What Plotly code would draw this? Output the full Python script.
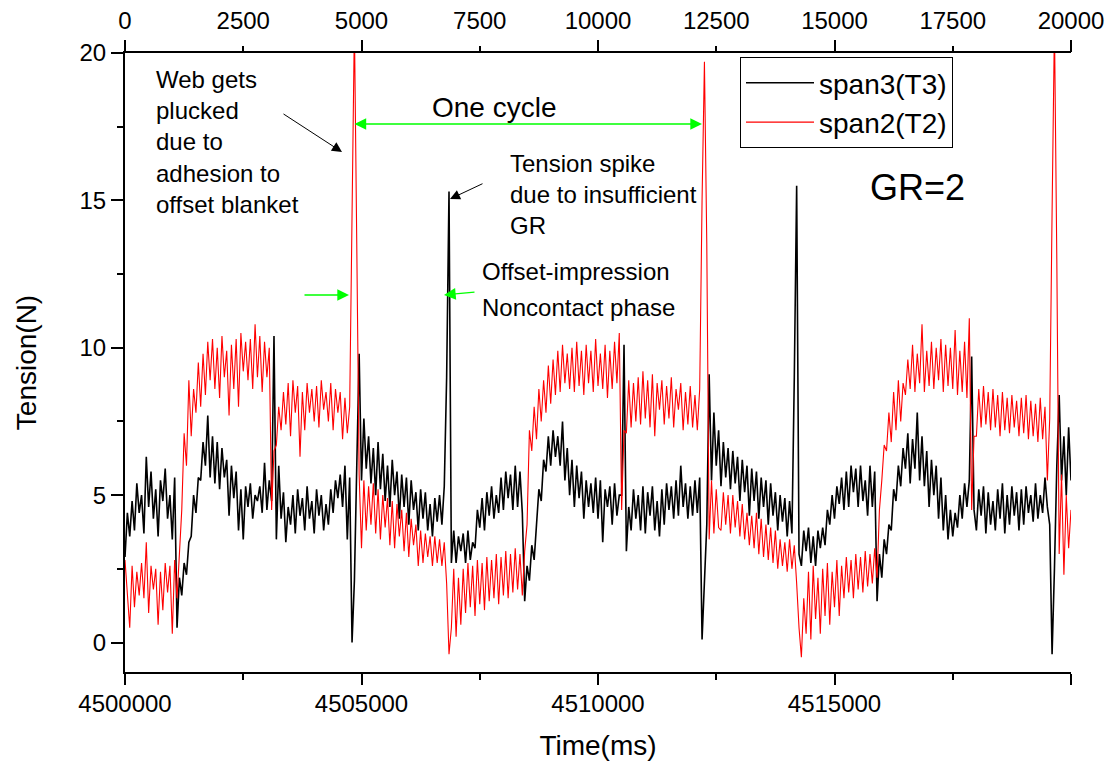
import plotly.graph_objects as go

# ---------------- data ----------------
t_start = 4500000          # ms
sample_step = 50           # ms between stored samples

# span3 (T3) tension [N], one sample every 50 ms, 1 s per row
span3_T3 = [
    2.9,4.4, 3.6,4.8, 3.8,5.4, 4.4,5.0, 3.7,6.3, 4.6,5.8, 4.2,5.2, 3.6,5.5, 4.8,5.9, 4.2,5.0,
    3.5,5.6, 0.5,2.2, 1.6,2.7, 2.3,3.4, 3.6,5.0, 4.4,5.6, 5.5,6.8, 6.0,7.7, 5.6,7.0, 5.4,6.8,
    5.2,6.6, 5.6,6.2, 4.3,6.0, 4.9,5.8, 3.8,5.2, 3.5,5.3, 4.6,5.4, 4.2,5.0, 4.8,5.3, 4.4,6.1,
    4.5,5.5, 4.8,10.4, 3.5,6.0, 4.2,5.1, 3.4,4.6, 4.0,5.0, 3.7,5.2, 4.3,4.9, 3.8,5.3, 4.2,4.8,
    3.7,5.2, 4.3,5.0, 3.8,4.7, 4.0,5.2, 4.4,5.5, 4.9,5.7, 4.6,6.0, 3.5,5.6, 0.0,2.1, 6.0,9.8,
    5.5,7.6, 5.9,7.0, 5.4,6.6, 5.0,6.8, 5.2,6.4, 4.8,6.0, 4.6,6.2, 5.0,5.8, 4.2,5.7, 4.6,5.6,
    4.0,5.5, 4.5,5.1, 3.8,5.2, 4.2,5.1, 3.8,4.7, 3.6,4.9, 4.1,5.0, 4.0,5.3, 9.0,15.3, 2.7,3.8,
    2.7,3.6, 3.1,3.7, 2.7,3.8, 2.8,3.4, 3.2,4.5, 3.9,4.9, 3.8,5.1, 4.3,5.3, 4.2,5.0, 4.4,5.6,
    4.5,5.8, 4.9,5.7, 4.5,6.0, 4.6,5.8, 4.4,1.4, 2.6,2.1, 3.3,2.8, 4.0,5.2, 4.8,6.2, 5.8,7.0,
    6.0,7.2, 6.3,7.0, 6.0,7.5, 5.5,6.6, 5.0,6.2, 4.6,6.0, 4.9,5.8, 4.2,5.5, 4.6,5.4, 4.4,5.6,
    4.2,5.5, 3.4,5.2, 4.6,5.3, 4.0,5.4, 4.3,5.0, 5.0,10.1, 3.1,4.6, 3.8,5.2, 4.2,5.0, 3.8,5.3,
    3.7,5.1, 4.3,5.3, 3.8,4.8, 3.6,5.2, 4.0,5.4, 4.5,5.3, 4.2,5.5, 4.3,6.0, 4.6,5.4, 4.2,5.3,
    4.3,5.5, 4.4,5.6, 0.1,2.0, 4.0,9.1, 5.5,7.8, 6.0,7.2, 5.3,6.8, 5.6,6.6, 5.2,6.5, 5.4,6.3,
    4.8,6.2, 5.1,6.0, 4.3,5.9, 4.8,5.8, 4.2,5.6, 4.6,5.5, 4.0,5.4, 4.3,5.1, 3.8,5.0, 4.1,4.9,
    3.6,4.8, 3.7,9.0, 15.5,3.0, 2.6,3.8, 3.1,3.9, 2.7,3.6, 2.6,3.8, 3.2,3.9, 3.3,4.5, 4.0,5.0,
    4.2,5.3, 4.7,5.6, 4.5,5.8, 4.6,6.0, 5.1,5.9, 4.6,6.0, 4.8,5.5, 4.3,6.0, 4.6,5.8, 1.4,3.0,
    2.2,3.5, 3.0,4.0, 3.8,5.2, 4.8,6.0, 5.3,6.6, 5.9,7.1, 5.4,6.9, 5.9,7.8, 5.5,7.0, 5.3,6.5,
    4.6,6.2, 5.0,6.0, 4.2,5.6, 3.8,5.0, 3.5,4.5, 3.6,4.4, 3.9,5.0, 4.2,5.4, 4.6,5.5, 9.7,4.5,
    3.8,5.2, 4.3,5.3, 3.7,5.1, 4.0,4.8, 3.8,5.2, 4.2,5.4, 3.7,5.0, 4.0,5.3, 4.3,5.1, 3.8,5.2,
    4.0,5.3, 4.4,5.0, 4.1,5.4, 4.2,5.0, 4.4,5.6, 4.6,4.0, -0.4,2.5, 6.0,8.4, 5.5,7.0, 5.0,7.3,
    5.5,
]

# span2 (T2) tension [N], one sample every 50 ms, 1 s per row
span2_T2 = [
    2.8,1.7, 0.5,2.6, 1.2,2.4, 1.6,2.7, 1.5,3.4, 1.0,2.6, 1.8,2.5, 0.6,2.4, 1.1,2.7, 1.7,2.6,
    0.3,2.8, 1.5,3.0, 4.5,7.1, 6.0,8.9, 7.0,8.6, 7.8,9.5, 8.0,9.8, 8.4,10.2, 8.9,10.3, 8.6,10.0,
    8.3,10.4, 9.0,9.9, 7.7,10.1, 8.6,10.3, 8.0,10.5, 9.2,10.2, 8.9,10.3, 8.6,10.8, 9.0,10.4, 8.5,10.2,
    9.0,10.0, 4.5,6.5, 6.7,8.0, 7.2,8.5, 7.4,8.8, 7.0,8.9, 7.8,8.7, 6.3,8.5, 7.2,8.8, 7.8,8.6,
    7.5,8.7, 7.3,8.9, 7.9,8.5, 7.5,8.8, 7.2,8.6, 7.8,8.5, 6.9,8.3, 7.1,8.0, 14.0,21.0, 13.5,5.7,
    3.2,5.5, 3.8,5.3, 4.0,5.4, 3.7,5.2, 3.5,5.0, 3.9,4.9, 3.3,4.8, 3.2,4.7, 3.6,4.5, 3.1,4.4,
    2.9,4.2, 3.3,4.0, 2.6,3.8, 2.7,3.7, 2.9,3.6, 2.6,3.6, 2.7,3.5, 2.6,3.4, 2.0,-0.4, 0.5,2.5,
    0.2,2.2, 0.6,2.5, 1.0,2.7, 1.2,2.6, 0.9,2.8, 1.3,2.7, 1.1,2.9, 1.4,2.8, 1.5,3.0, 1.3,2.9,
    1.6,3.1, 1.5,3.0, 1.7,3.2, 1.8,3.0, 1.6,3.1, 4.0,7.2, 6.5,8.0, 6.9,8.6, 7.5,8.9, 7.8,9.4,
    8.1,9.6, 8.4,9.9, 8.5,10.1, 8.8,9.8, 8.6,10.0, 8.5,10.2, 8.7,9.9, 8.4,10.1, 8.8,9.9, 8.5,10.3,
    8.7,9.8, 8.6,10.1, 8.3,9.9, 8.6,10.2, 8.8,10.5, 4.5,7.2, 7.1,8.9, 7.3,8.8, 7.5,9.0, 7.4,9.2,
    7.6,8.9, 7.3,9.1, 7.0,8.8, 7.9,8.9, 7.4,8.7, 7.6,9.0, 7.3,8.6, 7.9,8.8, 7.2,8.5, 7.4,8.7,
    7.3,8.4, 7.2,8.6, 15.0,19.7, 13.5,3.5, 5.5,3.7, 5.2,3.9, 3.8,5.1, 4.0,5.0, 3.7,5.0, 3.9,4.8,
    3.6,4.7, 3.5,4.4, 3.3,4.3, 3.2,4.4, 3.0,4.2, 2.9,4.0, 2.8,3.9, 2.7,3.8, 2.5,3.5, 2.6,3.4,
    2.4,3.5, 2.5,3.3, 2.0,0.5, -0.5,1.5, 0.3,2.4, 0.1,2.6, 0.8,2.2, 0.3,2.5, 0.9,2.7, 0.6,2.4,
    1.2,2.8, 0.9,2.6, 1.5,2.9, 1.7,2.8, 1.5,3.0, 1.8,2.9, 1.7,3.1, 1.9,3.0, 2.0,3.2, 2.2,4.5,
    5.5,6.7, 6.5,7.8, 6.8,8.5, 7.2,8.9, 7.5,8.8, 8.4,9.6, 8.6,10.1, 8.5,9.8, 8.8,10.8, 8.5,9.9,
    8.7,10.2, 8.6,10.0, 8.9,10.3, 8.5,10.1, 8.7,10.0, 8.6,10.6, 8.4,9.9, 8.5,10.2, 8.3,11.0, 4.5,7.0,
    7.0,8.6, 7.3,8.7, 7.4,8.5, 7.2,8.6, 7.3,8.4, 7.0,8.5, 7.2,8.3, 7.1,8.4, 7.3,8.2, 7.0,8.3,
    7.1,8.4, 6.9,8.2, 7.0,8.1, 6.8,8.3, 6.9,8.0, 5.5,7.6, 14.6,21.0, 13.0,3.0, 5.7,2.3, 5.0,3.2,
    4.5,
]

bottom_ticks = [4500000, 4505000, 4510000, 4515000, 4520000]
top_ticks = [0, 2500, 5000, 7500, 10000, 12500, 15000, 17500, 20000]
y_ticks = [0, 5, 10, 15, 20]

time_black = [t_start + sample_step * i for i in range(len(span3_T3))]
time_red = [t_start + sample_step * i for i in range(len(span2_T2))]

# ---------------- figure ----------------
FONT = "Arial, 'Liberation Sans', sans-serif"
W, H = 1114, 764
L, R, T, B = 125, 1071, 53, 672


def px(x):
    return (x - L) / (R - L)


def py(y):
    return (B - y) / (B - T)


fig = go.Figure()
fig.add_trace(go.Scatter(x=time_black, y=span3_T3, mode="lines", name="span3(T3)",
                         line=dict(color="black", width=1.6)))
fig.add_trace(go.Scatter(x=time_red, y=span2_T2, mode="lines", name="span2(T2)",
                         line=dict(color="#ff0000", width=1.1)))
# invisible helpers so the top axes get drawn
fig.add_trace(go.Scatter(x=[None], y=[None], xaxis="x2", showlegend=False, hoverinfo="skip"))
fig.add_trace(go.Scatter(x=[None], y=[None], xaxis="x3", showlegend=False, hoverinfo="skip"))

axis_font = dict(family=FONT, size=24, color="black")

fig.update_layout(
    width=W, height=H,
    margin=dict(l=L, r=W - R, t=T, b=H - B),
    paper_bgcolor="white", plot_bgcolor="white",
    font=dict(family=FONT, color="black"),
    showlegend=True,
    legend=dict(x=px(740), y=py(57), xanchor="left", yanchor="top",
                bgcolor="white", bordercolor="black", borderwidth=1,
                font=dict(family=FONT, size=28, color="black"),
                itemwidth=68, tracegroupgap=0),
    xaxis=dict(range=[4500000, 4520000], tickvals=bottom_ticks, tickformat="d",
               ticks="outside", ticklen=11, tickwidth=2, tickcolor="black",
               minor=dict(dtick=2500, ticks="outside", ticklen=6, tickwidth=2, tickcolor="black"),
               showline=True, linecolor="black", linewidth=2, showgrid=False, zeroline=False,
               tickfont=axis_font, ticklabelstandoff=-2,
               title=dict(text="Time(ms)", font=dict(family=FONT, size=28, color="black"), standoff=20),
               automargin=False),
    xaxis2=dict(overlaying="x", side="top", anchor="y", range=[0, 20000], tickvals=top_ticks,
                tickformat="d", ticks="outside", ticklen=5, tickwidth=2, tickcolor="black",
                showline=True, linecolor="black", linewidth=2, showgrid=False, zeroline=False,
                tickfont=axis_font, ticklabelstandoff=7, automargin=False),
    xaxis3=dict(overlaying="x", side="top", anchor="y", range=[0, 20000],
                tickvals=[0, 5000, 10000, 15000, 20000], showticklabels=False,
                ticks="outside", ticklen=12, tickwidth=2, tickcolor="black",
                showline=False, showgrid=False, zeroline=False, automargin=False),
    yaxis=dict(range=[-1, 20], tickvals=y_ticks, ticks="outside", ticklen=12, tickwidth=2,
               tickcolor="black",
               minor=dict(dtick=2.5, ticks="outside", ticklen=6, tickwidth=2, tickcolor="black"),
               showline=True, linecolor="black", linewidth=2, showgrid=False, zeroline=False,
               tickfont=axis_font,
               title=dict(text="Tension(N)", font=dict(family=FONT, size=28, color="black"), standoff=35),
               automargin=False),
)

anns = []
txt = dict(family=FONT, size=24, color="black")
# text labels
anns.append(dict(x=px(154), y=py(142), xref="paper", yref="paper", xanchor="left", yanchor="middle",
                 text="Web gets<br>plucked<br>due to<br>adhesion to<br>offset blanket",
                 align="left", showarrow=False, font=txt))
anns.append(dict(x=px(494), y=py(107), xref="paper", yref="paper", xanchor="center", yanchor="middle",
                 text="One cycle", showarrow=False, font=dict(family=FONT, size=28, color="black")))
anns.append(dict(x=px(508), y=py(195), xref="paper", yref="paper", xanchor="left", yanchor="middle",
                 text="Tension spike<br>due to insufficient<br>GR", align="left",
                 showarrow=False, font=txt))
anns.append(dict(x=px(480), y=py(271), xref="paper", yref="paper", xanchor="left", yanchor="middle",
                 text="Offset-impression", showarrow=False, font=txt))
anns.append(dict(x=px(480), y=py(307), xref="paper", yref="paper", xanchor="left", yanchor="middle",
                 text="Noncontact phase", showarrow=False, font=txt))
anns.append(dict(x=px(917), y=py(187), xref="paper", yref="paper", xanchor="center", yanchor="middle",
                 text="GR=2", showarrow=False, font=dict(family=FONT, size=36, color="black")))

# arrows (head at x,y ; tail offset ax,ay in pixels)
def arrow(hx, hy, tx, ty, color, width, size, side="end"):
    return dict(x=px(hx), y=py(hy), xref="paper", yref="paper", text="", showarrow=True,
                ax=tx - hx, ay=ty - hy, arrowhead=2, startarrowhead=2, arrowside=side,
                arrowsize=size, startarrowsize=size, arrowwidth=width, arrowcolor=color)

anns.append(arrow(342, 152, 282, 113, "black", 1, 2.0))
anns.append(arrow(450, 199, 484, 183, "black", 1, 2.0))
anns.append(arrow(702, 124, 353, 124, "#00ff00", 1.3, 1.8, side="end+start"))
anns.append(arrow(349, 295, 303, 295, "#00ff00", 1.3, 1.8))
anns.append(arrow(444, 295, 476, 292, "#00ff00", 1.3, 1.8))
fig.update_layout(annotations=anns)

fig.write_html("out.html", config={"displayModeBar": False},
               post_script="document.body.style.margin='0';document.body.style.padding='0';")
